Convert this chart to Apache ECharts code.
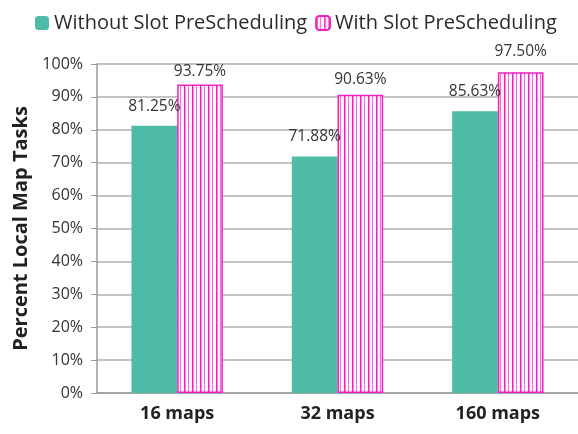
<!DOCTYPE html>
<html>
<head>
<meta charset="utf-8">
<script src="https://cdn.jsdelivr.net/npm/echarts@6/dist/echarts.min.js"></script>
<style>
  html, body { margin: 0; padding: 0; background: #fff; }
  #chart { width: 578px; height: 434px; }
</style>
</head>
<body>
<div id="chart"></div>
<script>
// Chart data
const categories = ['16 maps', '32 maps', '160 maps'];
const withoutSlot = [81.25, 71.88, 85.63];
const withSlot = [93.75, 90.63, 97.50];
const yTicks = [0, 10, 20, 30, 40, 50, 60, 70, 80, 90, 100];

// Gap between each value label and its bar (hand-placed labels)
const withoutLabelGap = [11, 12, 12];
const withLabelGap = [5, 7, 13];

// Vertical-stripe fill for the "with" series
function stripePattern() {
  const c = document.createElement('canvas');
  c.width = 8; c.height = 8;
  const g = c.getContext('2d');
  g.fillStyle = '#fff4fb';
  g.fillRect(0, 0, 8, 8);
  g.fillStyle = '#f020c0';
  g.fillRect(0, 0, 1.5, 8);
  g.fillStyle = '#f56ad6';
  g.fillRect(4, 0, 1, 8);
  return c;
}

const font = '"Open Sans", "Noto Sans", sans-serif';
const pct = p => p.value.toFixed(2) + '%';

function withGaps(values, gaps) {
  return values.map((v, i) => ({ value: v, label: { distance: gaps[i] } }));
}

const chart = echarts.init(document.getElementById('chart'));
chart.setOption({
  animation: false,
  backgroundColor: '#fff',
  textStyle: { fontFamily: font },
  legend: {
    top: 8,
    left: 30,
    itemWidth: 14,
    itemHeight: 14,
    itemGap: 8,
    textStyle: { fontSize: 20, color: '#2a2a2a', fontFamily: font }
  },
  grid: { left: 97, right: -6, top: 64, bottom: 41 },
  xAxis: {
    type: 'category',
    data: categories,
    axisLine: { lineStyle: { color: '#9a9a9a', width: 1.5 } },
    axisTick: { length: 7, lineStyle: { color: '#9a9a9a' } },
    axisLabel: { fontSize: 18, fontWeight: 'bold', color: '#222', margin: 12, fontFamily: font }
  },
  yAxis: {
    type: 'value',
    min: yTicks[0],
    max: yTicks[yTicks.length - 1],
    interval: 10,
    name: 'Percent Local Map Tasks',
    nameLocation: 'middle',
    nameGap: 65,
    nameTextStyle: { fontSize: 20, fontWeight: 'bold', color: '#222', fontFamily: font },
    axisLine: { show: true, lineStyle: { color: '#9a9a9a', width: 1.5 } },
    axisTick: { show: true, length: 6, lineStyle: { color: '#9a9a9a' } },
    axisLabel: { fontSize: 16, color: '#333', margin: 14, formatter: v => v + '%', fontFamily: font },
    splitLine: { lineStyle: { color: '#b0b0b0', width: 1.5 } }
  },
  series: [
    {
      name: 'Without Slot PreScheduling',
      type: 'bar',
      data: withGaps(withoutSlot, withoutLabelGap),
      barGap: '0%',
      barCategoryGap: '43%',
      itemStyle: { color: '#4dbba6' },
      label: {
        show: true, position: 'top',
        fontSize: 15.5, color: '#333', fontFamily: font,
        formatter: pct
      }
    },
    {
      name: 'With Slot PreScheduling',
      type: 'bar',
      data: withGaps(withSlot, withLabelGap),
      itemStyle: {
        color: { image: stripePattern(), repeat: 'repeat' },
        borderColor: '#f020c0',
        borderWidth: 1.5
      },
      label: {
        show: true, position: 'top',
        fontSize: 15.5, color: '#333', fontFamily: font,
        formatter: pct
      }
    }
  ]
});
</script>
</body>
</html>
